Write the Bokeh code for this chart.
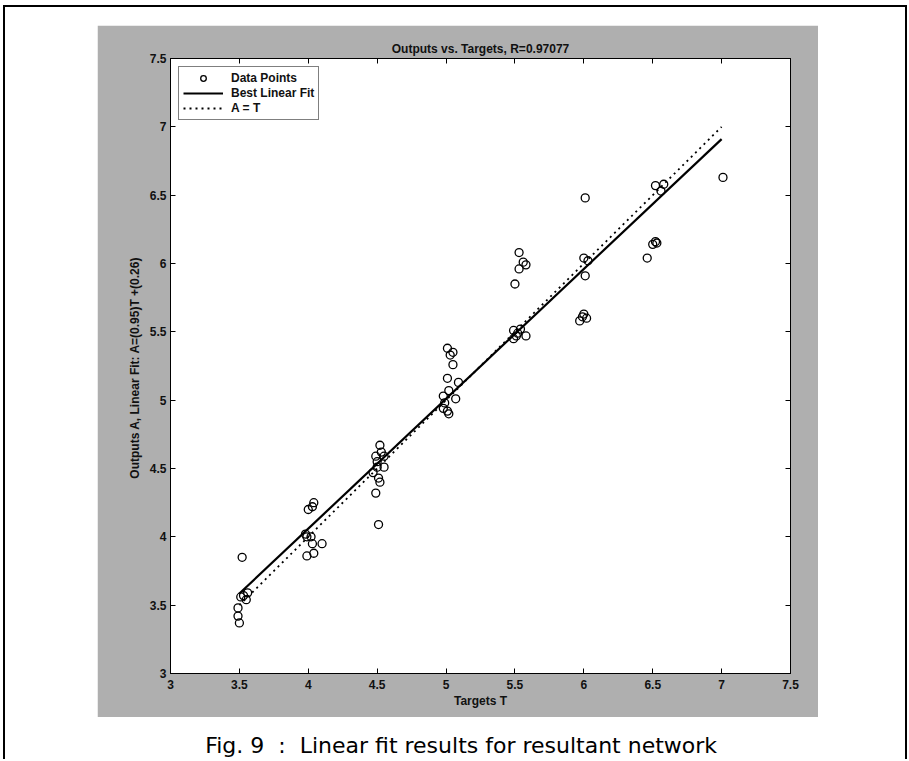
from bokeh.plotting import figure
from bokeh.models import Range1d, FixedTicker, LinearAxis, CustomJSTickFormatter, Label
from bokeh.layouts import column
from bokeh.embed import file_html
from bokeh.resources import INLINE

# ---------------- data ----------------
TITLE = "Outputs vs. Targets, R=0.97077"
X_LABEL = "Targets T"
Y_LABEL = "Outputs A,  Linear Fit: A=(0.95)T +(0.26)"
CAPTION = "Fig. 9 \u00a0:\u00a0 Linear fit results for resultant network"

tick_values = [3.0, 3.5, 4.0, 4.5, 5.0, 5.5, 6.0, 6.5, 7.0, 7.5]
tick_labels = ["3", "3.5", "4", "4.5", "5", "5.5", "6", "6.5", "7", "7.5"]

targets = [3.52, 3.51, 3.55, 3.49, 3.49, 3.50, 3.56, 3.53,
           3.99, 4.03, 4.10, 3.99, 4.04, 4.00, 4.03, 4.04, 3.98, 4.02,
           4.52, 4.49, 4.55, 4.50, 4.55, 4.51, 4.52, 4.49, 4.51, 4.50, 4.47, 4.53,
           5.01, 5.05, 5.03, 5.05, 5.01, 5.09, 4.98, 5.02, 5.07, 4.99, 5.01, 5.02, 4.98,
           5.53, 5.56, 5.58, 5.53, 5.50, 5.49, 5.52, 5.49, 5.58, 5.54, 5.51,
           6.00, 6.03, 6.01, 6.00, 6.02, 5.97, 6.01, 5.99,
           6.52, 6.50, 6.53, 6.46, 6.52, 6.56, 6.58,
           7.01]
outputs = [3.85, 3.56, 3.54, 3.48, 3.42, 3.37, 3.59, 3.57,
           4.00, 3.95, 3.95, 3.86, 3.88, 4.20, 4.22, 4.25, 4.02, 4.00,
           4.67, 4.59, 4.59, 4.51, 4.51, 4.43, 4.40, 4.32, 4.09, 4.55, 4.47, 4.62,
           5.38, 5.35, 5.33, 5.26, 5.16, 5.13, 5.03, 5.07, 5.01, 4.98, 4.92, 4.90, 4.94,
           6.08, 6.01, 5.99, 5.96, 5.85, 5.51, 5.49, 5.45, 5.47, 5.52, 5.47,
           6.04, 6.02, 5.91, 5.63, 5.60, 5.58, 6.48, 5.61,
           6.16, 6.14, 6.15, 6.04, 6.57, 6.53, 6.58,
           6.63]

fit_t = [3.5, 7.0]
fit_a = [3.585, 6.91]
ident_t = [3.5, 7.0]
ident_a = [3.5, 7.0]

# ---------------- style ----------------
GREY = "#afafaf"
FONT = "Liberation Sans"

p = figure(width=721, height=692,
           x_range=Range1d(3, 7.5), y_range=Range1d(3, 7.5),
           output_backend="svg", toolbar_location=None,
           min_border_left=73, min_border_right=28,
           min_border_top=33, min_border_bottom=44,
           border_fill_color=GREY, background_fill_color="white",
           outline_line_color="black", outline_line_width=1,
           margin=(18, 0, 0, 92))
p.grid.visible = False

p.title.text = TITLE
p.title.align = "center"
p.title.text_font = FONT
p.title.text_font_size = "12px"
p.title.text_font_style = "bold"
p.title.text_color = "#111111"
p.title.standoff = 5

ticker = FixedTicker(ticks=tick_values)
overrides = {v: s for v, s in zip(tick_values, tick_labels)}

for ax in (p.xaxis[0], p.yaxis[0]):
    ax.ticker = ticker
    ax.major_label_overrides = overrides
    ax.major_tick_in = 5
    ax.major_tick_out = 0
    ax.minor_tick_line_color = None
    ax.axis_line_color = "black"
    ax.major_tick_line_color = "black"
    ax.major_label_text_font = FONT
    ax.major_label_text_font_size = "12px"
    ax.major_label_text_font_style = "bold"
    ax.major_label_text_color = "#111111"
    ax.axis_label_text_font = FONT
    ax.axis_label_text_font_size = "12px"
    ax.axis_label_text_font_style = "bold"
    ax.axis_label_text_color = "#111111"

p.xaxis[0].axis_label = X_LABEL
p.xaxis[0].major_label_standoff = 6
p.xaxis[0].axis_label_standoff = 2
p.yaxis[0].axis_label = Y_LABEL
p.yaxis[0].major_label_standoff = 4
p.yaxis[0].axis_label_standoff = 5

for loc in ("right", "above"):
    ax = LinearAxis(ticker=FixedTicker(ticks=tick_values),
                    formatter=CustomJSTickFormatter(code="return ''"),
                    major_tick_in=5, major_tick_out=0,
                    minor_tick_line_color=None,
                    major_label_text_font_size="0px",
                    major_label_standoff=0,
                    axis_line_color="black")
    p.add_layout(ax, loc)

p.scatter(targets, outputs, marker="circle", size=8, fill_color=None,
          line_color="black", line_width=1.3, legend_label="Data Points")
p.line(fit_t, fit_a, line_color="black", line_width=2.2, legend_label="Best Linear Fit")
p.line(ident_t, ident_a, line_color="black", line_width=1.8, line_dash="2 4",
       legend_label="A = T")

lg = p.legend[0]
lg.location = "top_left"
lg.margin = 8
lg.border_line_color = "black"
lg.border_line_width = 1
lg.background_fill_color = "white"
lg.background_fill_alpha = 1
lg.label_text_font = FONT
lg.label_text_font_size = "12px"
lg.label_text_font_style = "bold"
lg.label_text_color = "#111111"
lg.glyph_width = 40
lg.glyph_height = 14
lg.label_height = 14
lg.label_standoff = 8
lg.padding = 4
lg.spacing = 1

cap = figure(width=900, height=42, x_range=Range1d(0, 900), y_range=Range1d(0, 42),
             output_backend="svg", toolbar_location=None,
             x_axis_location=None, y_axis_location=None, title=None,
             min_border=0, outline_line_color=None)
cap.grid.visible = False
cap.add_layout(Label(x=431, y=14, text=CAPTION, text_align="center",
                     text_baseline="middle", text_font="DejaVu Sans",
                     text_font_size="22px", text_color="black"))

layout = column(p, cap, spacing=0, margin=(5, 0, 0, 3),
                styles={"border-top": "2px solid black",
                        "border-left": "2px solid black",
                        "border-right": "2px solid black"})
open("out.html", "w").write(file_html(layout, INLINE))
